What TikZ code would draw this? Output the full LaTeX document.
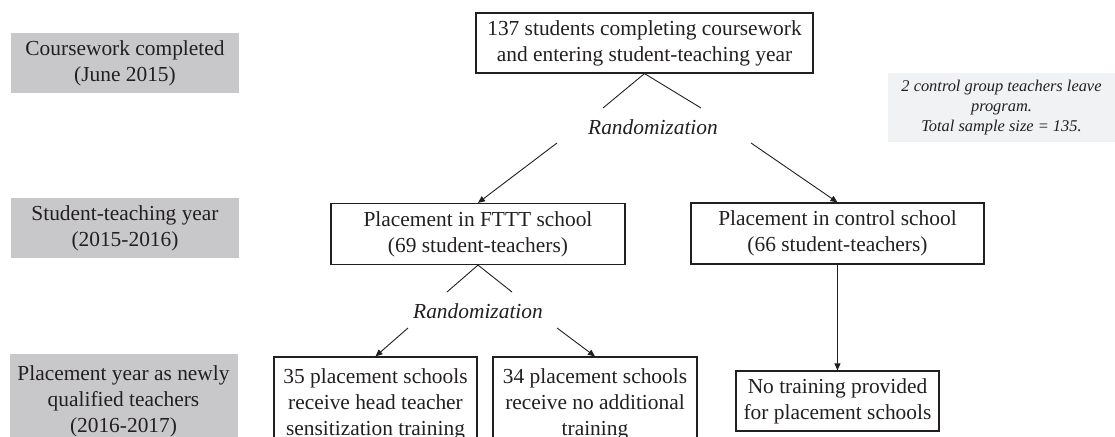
\documentclass[tikz,border=0pt]{standalone}
\usepackage{fontspec}
\setmainfont{Liberation Serif}
\usetikzlibrary{arrows.meta}
\definecolor{stagegrey}{RGB}{200,200,202}
\definecolor{notegrey}{RGB}{241,242,244}
\definecolor{ink}{RGB}{35,31,32}

\begin{document}
\begin{tikzpicture}
        [x=0.5pt, y=-0.5pt, ink, text=ink,
         every node/.style={align=center, inner sep=0pt, font=\fontsize{10.7}{13}\selectfont},
         stage/.style={fill=stagegrey, minimum width=114pt, minimum height=30pt},
         flowbox/.style={draw, line width=0.6pt},
         rand/.style={font=\fontsize{10.7}{13}\selectfont\itshape},
         note/.style={fill=notegrey, minimum width=113.5pt, minimum height=34.5pt,
                      font=\fontsize{8.2}{9.8}\selectfont\itshape},
         flow/.style={line width=0.45pt},
         arr/.style={flow, -{Triangle[length=3.5pt,width=3pt]}}]
        \useasboundingbox (0,0) rectangle (1115,437);
        \clip (0,0) rectangle (1115,437);

        % stages on the left
        \node[stage] (s1) at (125,63)    {Coursework completed\\(June 2015)};
        \node[stage] (s2) at (125,228)   {Student-teaching year\\(2015-2016)};
        \node[stage, minimum height=47pt] (s3) at (123.5,401)
              {Placement year as newly\\qualified teachers\\(2016-2017)};

        % flow
        \node[flowbox, minimum width=168.5pt, minimum height=30pt] (all) at (644.5,43)
              {137 students completing coursework\\and entering student-teaching year};
        \node[rand] (r1) at (653,127) {Randomization};
        \node[flowbox, minimum width=147pt, minimum height=30.5pt] (fttt) at (478,234)
              {Placement in FTTT school\\(69 student-teachers)};
        \node[flowbox, minimum width=146.5pt, minimum height=30.5pt] (ctrl) at (837.5,233.5)
              {Placement in control school\\(66 student-teachers)};
        \node[rand] (r2) at (478,311) {Randomization};
        \node[flowbox, minimum width=101.5pt, minimum height=47pt] (head) at (375.5,404)
              {35 placement schools\\receive head teacher\\sensitization training};
        \node[flowbox, minimum width=102pt, minimum height=47pt] (none) at (595,404)
              {34 placement schools\\receive no additional\\training};
        \node[flowbox, minimum width=101.5pt, minimum height=30pt] (notrain) at (837.5,401)
              {No training provided\\for placement schools};
        \node[note] (drop) at (1001.5,107.5)
              {2 control group teachers leave\\program.\\Total sample size = 135.};

        \coordinate (a1) at (603,108);
        \coordinate (a2) at (701,108);
        \coordinate (b1) at (557,143);
        \coordinate (b2) at (751,143);
        \coordinate (c1) at (447,292);
        \coordinate (c2) at (512,292);
        \coordinate (d1) at (408,328);
        \coordinate (d2) at (557,328);

        \foreach \from/\to in {all.south/a1,all.south/a2,fttt.south/c1,fttt.south/c2}
        \draw[flow] (\from) -- (\to);
        \foreach \from/\to in {b1/fttt.north,b2/ctrl.north,d1/head.north,d2/none.north,ctrl.south/notrain.north}
        \draw[arr] (\from) -- (\to);
    \end{tikzpicture}
\end{document}
